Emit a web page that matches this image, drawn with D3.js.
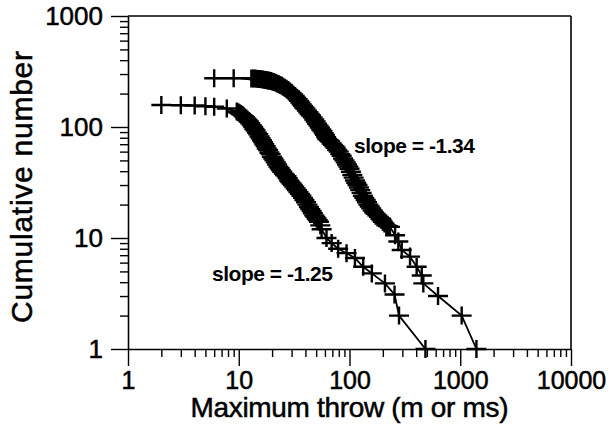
<!DOCTYPE html>
<html><head><meta charset="utf-8">
<script src="https://cdn.jsdelivr.net/npm/d3@7"></script>
<style>body{margin:0;background:#fff}svg{display:block}</style>
</head><body>
<svg id="chart" width="612" height="431"></svg>
<script>
// ---- data ----
const xTickValues = [1, 10, 100, 1000, 10000];
const xTickLabels = ["1", "10", "100", "1000", "10000"];
const yTickValues = [1, 10, 100, 1000];
const yTickLabels = ["1", "10", "100", "1000"];

// upper population (slope = -1.34): maximum throw vs cumulative number
const upperThrow = [6, 9, 13, 13.5, 14, 14.5, 15, 15.5, 16, 16.5, 17, 17.5, 18, 18.5, 19, 19.5, 20, 20.7, 21.5, 22.2, 23, 23.7, 24.5, 25.2, 26, 27, 28, 29, 30, 31, 32, 33, 34, 35, 36, 37, 38, 39, 40, 41.2, 42.5, 43.7, 45, 46.5, 48, 49.5, 51, 52.5, 54, 55.5, 57, 58.5, 60, 61.5, 63, 65, 67, 69, 71, 73, 75, 77.5, 80, 82.5, 85, 87.5, 90, 92.5, 95, 97.5, 100, 103, 106, 109, 112, 115, 118, 121.5, 125, 128.5, 132, 136, 140, 144, 148, 152.5, 157, 162, 167, 172, 178, 184, 190, 195, 200, 207, 215, 223, 232, 258, 276, 296, 352, 404, 449, 464, 630, 1030, 1400];
const upperCount = [275, 275, 274, 274, 273, 272, 271, 270, 269, 268, 267, 265, 264, 262, 261, 259, 257, 254, 250, 247, 243, 239, 235, 231, 226, 221, 215, 209, 203, 196, 190, 184, 178, 172, 166, 160, 155, 150, 146, 141, 136, 131, 127, 122, 117, 112, 107, 103, 99, 95, 92, 88, 85, 81, 78, 76, 74, 71, 69, 67, 65, 62, 60, 57, 55, 52, 50, 48, 46, 44, 42, 39.5, 37, 35, 33, 31.5, 30, 28.5, 27, 25.5, 24, 23, 22, 21, 20, 19.2, 18.5, 17.7, 17, 16.5, 16, 15.5, 15, 14.5, 14, 13.5, 13, 12.8, 12.6, 10.6, 9.3, 7.8, 6.8, 5.5, 4.6, 3.9, 3.0, 2.0, 1];

// lower population (slope = -1.25)
const lowerThrow = [2, 3, 4, 5, 6, 7.8, 9.6, 9.9, 10.2, 10.5, 10.8, 11.1, 11.4, 11.7, 12, 12.35, 12.7, 13.1, 13.5, 13.85, 14.2, 14.6, 15, 15.4, 15.8, 16.2, 16.6, 17, 17.5, 17.9, 18.4, 18.9, 19.4, 19.9, 20.5, 21, 21.6, 22.2, 22.8, 23.4, 24, 24.7, 25.5, 26.2, 27, 27.7, 28.5, 29.2, 30, 30.8, 31.7, 32.6, 33.5, 34.6, 35.7, 36.8, 38, 39.2, 40.5, 41.7, 43, 44.2, 45.5, 46.7, 48, 49.2, 50.5, 51.7, 53, 54.5, 56, 62, 69, 79, 94, 112, 133, 159, 209, 255, 280, 485];
const lowerCount = [158, 157, 156, 154, 152, 147, 138, 136, 133, 131, 128, 125, 122, 119, 116, 112, 108, 104, 100, 96, 93, 89, 86, 82, 79, 76, 73, 70, 67, 64, 62, 59, 57, 54, 52, 50, 48, 46, 44, 42.5, 41, 39.5, 38, 37, 36, 34.5, 33, 32, 31, 30, 29, 28, 27, 26, 25, 24, 23, 22, 21, 20, 19, 18.2, 17.5, 16.7, 16, 15.5, 15, 14.5, 14, 13, 12, 10, 9, 8, 7.3, 6.6, 5.5, 4.8, 3.9, 3.1, 2, 1];

const slopeLabels = ["slope = -1.34", "slope = -1.25"];
const xTitle = "Maximum throw (m or ms)";
const yTitle = "Cumulative number";

// ---- drawing ----
const FONT = "'Liberation Sans', Arial, Helvetica, sans-serif";
const svg = d3.select("#chart");
const L = 128, R = 571, T = 16, B = 349;
const x = d3.scaleLog().domain([1, 10000]).range([L, R]);
const y = d3.scaleLog().domain([1, 1000]).range([B, T]);

function minors(lo, hi) {
  const out = [];
  for (let d = lo; d < hi; d *= 10) for (let k = 2; k <= 9; k++) out.push(d * k);
  return out;
}

// box top/right
svg.append("line").attr("x1", L).attr("x2", R).attr("y1", T).attr("y2", T)
  .attr("stroke", "#000").attr("stroke-width", 1.6);
svg.append("line").attr("x1", R).attr("x2", R).attr("y1", T).attr("y2", B)
  .attr("stroke", "#000").attr("stroke-width", 1.6);

// bottom axis
const gx = svg.append("g").attr("transform", `translate(0,${B})`);
gx.call(d3.axisBottom(x).tickValues(xTickValues).tickSize(17).tickSizeOuter(0).tickPadding(5)
  .tickFormat((d, i) => xTickLabels[i]));
const gxm = svg.append("g").attr("transform", `translate(0,${B})`);
gxm.call(d3.axisBottom(x).tickValues(minors(1, 10000)).tickSize(8).tickFormat(""));
gxm.select(".domain").remove();

// left axis
const gy = svg.append("g").attr("transform", `translate(${L},0)`);
gy.call(d3.axisLeft(y).tickValues(yTickValues).tickSize(17).tickSizeOuter(0).tickPadding(8)
  .tickFormat((d, i) => yTickLabels[i]));
const gym = svg.append("g").attr("transform", `translate(${L},0)`);
gym.call(d3.axisLeft(y).tickValues(minors(1, 1000)).tickSize(8).tickFormat(""));
gym.select(".domain").remove();

svg.selectAll(".tick line").attr("stroke", "#000").attr("stroke-width", 1.4);
svg.selectAll(".domain").attr("stroke", "#000").attr("stroke-width", 1.6);
gx.selectAll(".tick text").attr("font-size", 25);
gy.selectAll(".tick text").attr("font-size", 26);
svg.selectAll(".tick text").attr("font-family", FONT).attr("fill", "#000")
  .attr("stroke", "#000").attr("stroke-width", 0.5);

// series
const line = d3.line().x(d => x(d.t)).y(d => y(d.n));
const marker = "M-10,0H10M0,-9V9";
function drawSeries(throws, counts) {
  const data = throws.map((t, i) => ({ t, n: counts[i] }));
  const g = svg.append("g");
  g.append("path").datum(data).attr("d", line).attr("fill", "none")
    .attr("stroke", "#000").attr("stroke-width", 1.8);
  g.selectAll("path.m").data(data).join("path").attr("class", "m")
    .attr("transform", d => `translate(${x(d.t)},${y(d.n)})`)
    .attr("d", marker).attr("stroke", "#000").attr("stroke-width", 2.4).attr("fill", "none");
}
drawSeries(upperThrow, upperCount);
drawSeries(lowerThrow, lowerCount);

// slope labels
svg.append("text").attr("x", 354).attr("y", 153).text(slopeLabels[0])
  .attr("font-family", FONT).attr("font-size", 21).attr("font-weight", "bold")
  .attr("textLength", 121).attr("lengthAdjust", "spacing");
svg.append("text").attr("x", 212).attr("y", 281).text(slopeLabels[1])
  .attr("font-family", FONT).attr("font-size", 21).attr("font-weight", "bold")
  .attr("textLength", 121).attr("lengthAdjust", "spacing");

// axis titles
svg.append("text").attr("x", (L + R) / 2).attr("y", 417).attr("text-anchor", "middle")
  .text(xTitle).attr("font-family", FONT).attr("font-size", 28)
  .attr("stroke", "#000").attr("stroke-width", 0.5)
  .attr("textLength", 318).attr("lengthAdjust", "spacing");
svg.append("text").attr("transform", `translate(32,187) rotate(-90)`).attr("text-anchor", "middle")
  .text(yTitle).attr("font-family", FONT).attr("font-size", 30)
  .attr("stroke", "#000").attr("stroke-width", 0.5)
  .attr("textLength", 272).attr("lengthAdjust", "spacing");
</script>
</body></html>
